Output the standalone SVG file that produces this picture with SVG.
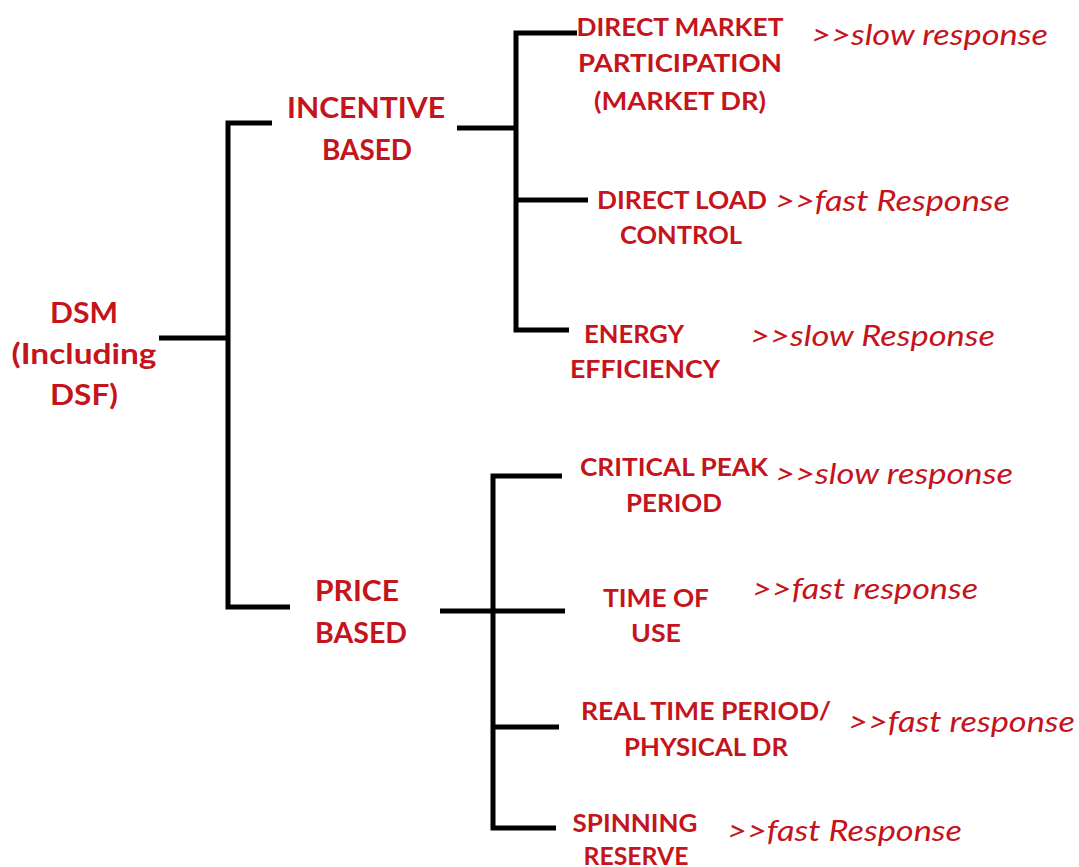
<svg xmlns="http://www.w3.org/2000/svg" width="1079" height="867" viewBox="0 0 1079 867">
  <style>
    .big { font-family: Lato, "Open Sans", sans-serif; font-weight: bold; font-size: 29px; fill: #c4141c; text-anchor: middle; }
    .lbl { font-family: Lato, "Open Sans", sans-serif; font-weight: bold; font-size: 25px; fill: #c4141c; text-anchor: middle; }
    .note { font-family: Lato, "Open Sans", sans-serif; font-style: italic; font-size: 28px; fill: #c4141c; }
    .wire { fill: none; stroke: #000; stroke-width: 5; stroke-linejoin: miter; }
  </style>
  <rect width="1079" height="867" fill="#fff"/>

  <g id="connectors">
    <!-- root to the two families -->
    <line class="wire" x1="159" y1="338" x2="228" y2="338"/>
    <polyline class="wire" points="272,123 228,123 228,607 290,607"/>
    <!-- incentive based branches -->
    <line class="wire" x1="457" y1="128" x2="516" y2="128"/>
    <polyline class="wire" points="577,33 516,33 516,330 569,330"/>
    <line class="wire" x1="516" y1="200" x2="588" y2="200"/>
    <!-- price based branches -->
    <polyline class="wire" points="562,476 493,476 493,828 556,828"/>
    <line class="wire" x1="440" y1="611" x2="565" y2="611"/>
    <line class="wire" x1="493" y1="727" x2="559" y2="727"/>
  </g>

  <g id="dsm">
    <text class="big" x="84" y="323" textLength="68" lengthAdjust="spacingAndGlyphs">DSM</text>
    <text class="big" x="84" y="364" textLength="145" lengthAdjust="spacingAndGlyphs">(Including</text>
    <text class="big" x="84" y="405" textLength="68" lengthAdjust="spacingAndGlyphs">DSF)</text>
  </g>

  <g id="incentive-based">
    <text class="big" x="366" y="118" textLength="158" lengthAdjust="spacingAndGlyphs">INCENTIVE</text>
    <text class="big" x="367" y="160" textLength="90" lengthAdjust="spacingAndGlyphs">BASED</text>
  </g>

  <g id="price-based">
    <text class="big" x="357" y="601" textLength="84" lengthAdjust="spacingAndGlyphs">PRICE</text>
    <text class="big" x="361" y="643" textLength="92" lengthAdjust="spacingAndGlyphs">BASED</text>
  </g>

  <g id="direct-market">
    <text class="lbl" x="680" y="36" textLength="207" lengthAdjust="spacingAndGlyphs">DIRECT MARKET</text>
    <text class="lbl" x="680" y="72" textLength="204" lengthAdjust="spacingAndGlyphs">PARTICIPATION</text>
    <text class="lbl" x="680" y="110" textLength="172" lengthAdjust="spacingAndGlyphs">(MARKET DR)</text>
    <text class="note" x="811" y="45" textLength="237" lengthAdjust="spacingAndGlyphs">&gt;&gt;slow response</text>
  </g>

  <g id="direct-load">
    <text class="lbl" x="682" y="209" textLength="170" lengthAdjust="spacingAndGlyphs">DIRECT LOAD</text>
    <text class="lbl" x="681" y="244" textLength="122" lengthAdjust="spacingAndGlyphs">CONTROL</text>
    <text class="note" x="775" y="211" textLength="235" lengthAdjust="spacingAndGlyphs">&gt;&gt;fast Response</text>
  </g>

  <g id="energy-efficiency">
    <text class="lbl" x="634" y="343" textLength="100" lengthAdjust="spacingAndGlyphs">ENERGY</text>
    <text class="lbl" x="645" y="378" textLength="150" lengthAdjust="spacingAndGlyphs">EFFICIENCY</text>
    <text class="note" x="750" y="346" textLength="245" lengthAdjust="spacingAndGlyphs">&gt;&gt;slow Response</text>
  </g>

  <g id="critical-peak">
    <text class="lbl" x="674" y="476" textLength="188" lengthAdjust="spacingAndGlyphs">CRITICAL PEAK</text>
    <text class="lbl" x="674" y="512" textLength="96" lengthAdjust="spacingAndGlyphs">PERIOD</text>
    <text class="note" x="775" y="484" textLength="238" lengthAdjust="spacingAndGlyphs">&gt;&gt;slow response</text>
  </g>

  <g id="time-of-use">
    <text class="lbl" x="656" y="607" textLength="106" lengthAdjust="spacingAndGlyphs">TIME OF</text>
    <text class="lbl" x="656" y="642" textLength="50" lengthAdjust="spacingAndGlyphs">USE</text>
    <text class="note" x="752" y="599" textLength="226" lengthAdjust="spacingAndGlyphs">&gt;&gt;fast response</text>
  </g>

  <g id="real-time">
    <text class="lbl" x="706" y="720" textLength="250" lengthAdjust="spacingAndGlyphs">REAL TIME PERIOD/</text>
    <text class="lbl" x="706" y="756" textLength="164" lengthAdjust="spacingAndGlyphs">PHYSICAL DR</text>
    <text class="note" x="848" y="732" textLength="227" lengthAdjust="spacingAndGlyphs">&gt;&gt;fast response</text>
  </g>

  <g id="spinning-reserve">
    <text class="lbl" x="635" y="832" textLength="125" lengthAdjust="spacingAndGlyphs">SPINNING</text>
    <text class="lbl" x="636" y="865" textLength="105" lengthAdjust="spacingAndGlyphs">RESERVE</text>
    <text class="note" x="727" y="841" textLength="235" lengthAdjust="spacingAndGlyphs">&gt;&gt;fast Response</text>
  </g>
</svg>
